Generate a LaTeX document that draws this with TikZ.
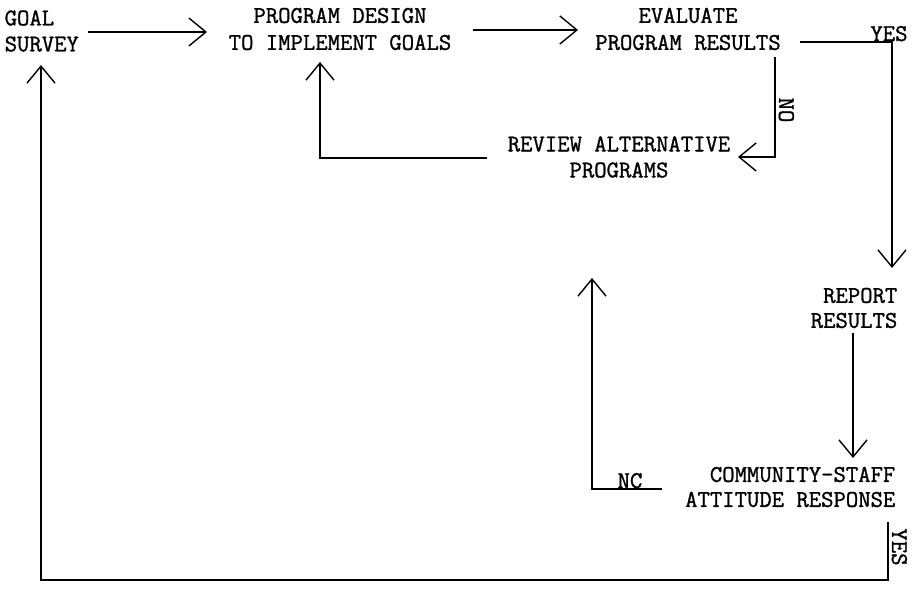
\documentclass[tikz,border=0pt]{standalone}
\usepackage{fontspec}
\newfontfamily\typer[FakeBold=1.2]{Latin Modern Mono}
\usetikzlibrary{arrows.meta}
\tikzset{
  lbl/.style={font=\typer\fontsize{24}{26}\selectfont, inner sep=0pt, align=center},
  arr/.style={-{Straight Barb[length=17pt,width=28pt]}},
  ln/.style={line width=1.4pt},
}
\begin{document}
\begin{tikzpicture}[x=1pt,y=-1pt,ln]
\useasboundingbox (0,0) rectangle (915,591);
% nodes
\node[lbl, anchor=west, align=left] (goal) at (4,31) {GOAL\\SURVEY};
\node[lbl, font=\typer\fontsize{24}{27}\selectfont] (design) at (340,29) {PROGRAM DESIGN\\TO IMPLEMENT GOALS};
\node[lbl, font=\typer\fontsize{24}{27}\selectfont] (eval) at (688,29) {EVALUATE\\PROGRAM RESULTS};
\node[lbl] (review) at (619,157) {REVIEW ALTERNATIVE\\PROGRAMS};
\node[lbl, anchor=east, align=right, font=\typer\fontsize{24}{25}\selectfont] (report) at (898,308) {REPORT\\RESULTS};
\node[lbl, anchor=east, align=right, font=\typer\fontsize{24}{25}\selectfont] (comm) at (896,487) {COMMUNITY-STAFF\\ATTITUDE RESPONSE};
% labels
\node[lbl, anchor=base] (yes1) at (889,41) {YES};
\node[lbl, rotate=-90, anchor=base] (no1) at (779,110) {NO};
\node[lbl, anchor=base] (nc) at (630,488) {NC};
\node[lbl, rotate=-90, anchor=base] (yes2) at (892,547) {YES};
% coordinates
\coordinate (g0) at (88,32);   \coordinate (g1) at (207,32);
\coordinate (d0) at (473,30);  \coordinate (d1) at (578,30);
\coordinate (e0) at (800,42);  \coordinate (e1) at (892,42);  \coordinate (e2) at (892,268);
\coordinate (n0) at (775,57);  \coordinate (n1) at (775,157); \coordinate (n2) at (738,157);
\coordinate (r0) at (487,158); \coordinate (r1) at (320,158); \coordinate (r2) at (320,62);
\coordinate (p0) at (853,333); \coordinate (p1) at (853,458);
\coordinate (c0) at (662,489); \coordinate (c1) at (592,489); \coordinate (c2) at (592,278);
\coordinate (y0) at (888,522); \coordinate (y1) at (888,580); \coordinate (y2) at (41,580); \coordinate (y3) at (41,65);
% connectors
\draw[arr] (g0) -- (g1);
\draw[arr] (d0) -- (d1);
\draw[arr] (e0) -- (e1) -- (e2);
\draw[arr] (n0) -- (n1) -- (n2);
\draw[arr] (r0) -- (r1) -- (r2);
\draw[arr] (p0) -- (p1);
\draw[arr] (c0) -- (c1) -- (c2);
\draw[arr] (y0) -- (y1) -- (y2) -- (y3);
\end{tikzpicture}
\end{document}
